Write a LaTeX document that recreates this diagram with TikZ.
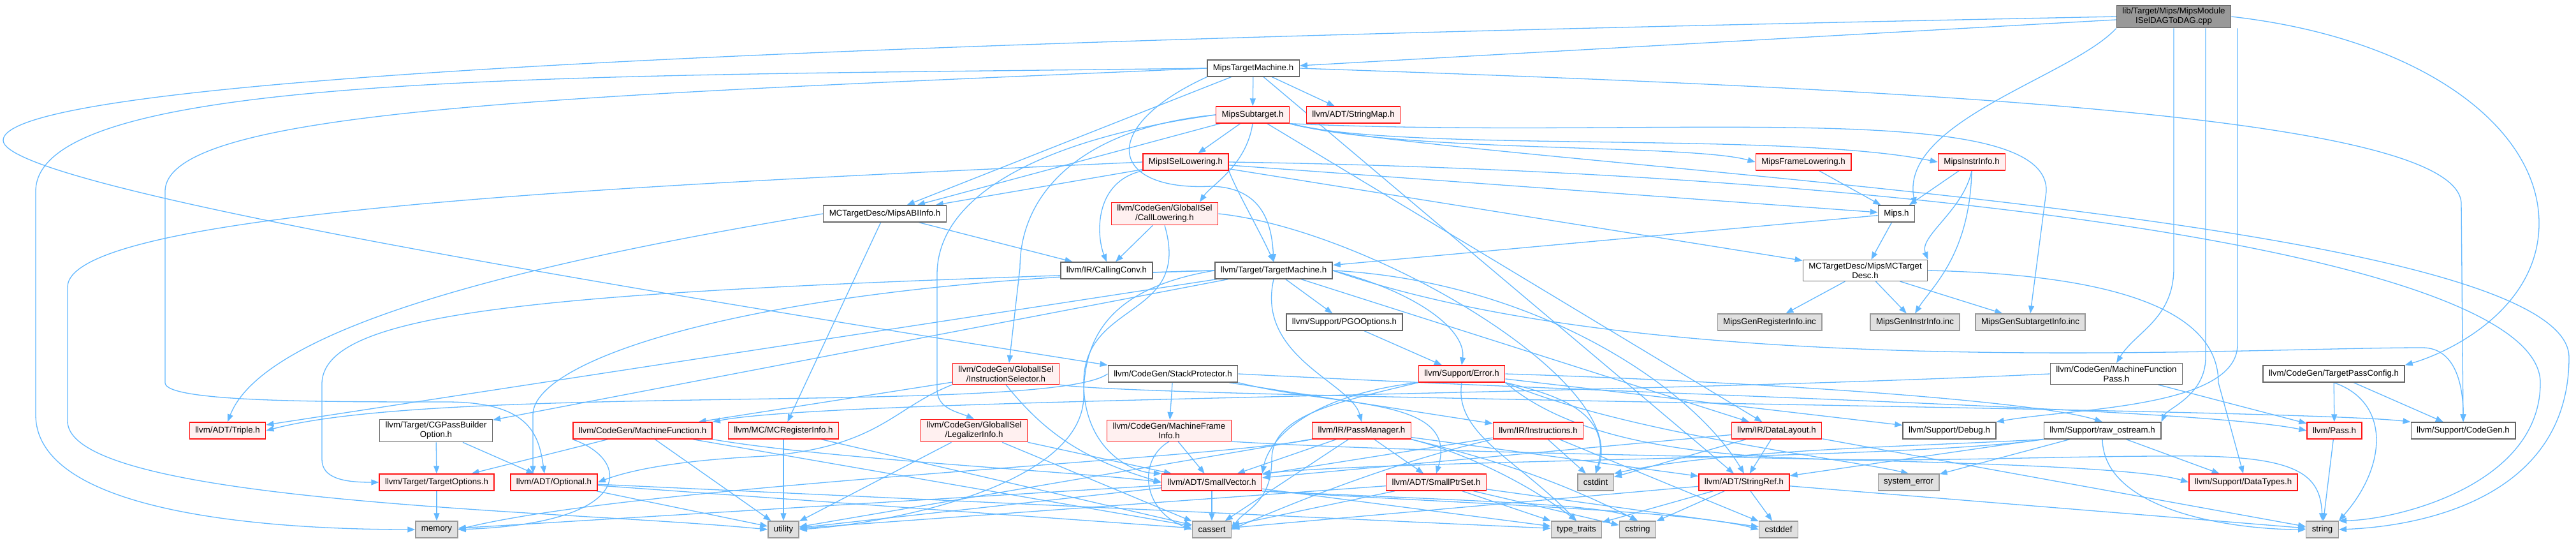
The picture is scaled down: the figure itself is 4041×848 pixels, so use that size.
\documentclass[tikz,border=0pt]{standalone}
\usepackage{fontspec}
\setmainfont{Liberation Sans}
\usepackage{tikz}
\usetikzlibrary{arrows.meta,backgrounds}
\definecolor{edgecol}{RGB}{99,184,255}
\definecolor{boxline}{RGB}{102,102,102}
\definecolor{redline}{RGB}{255,20,20}
\definecolor{redfill}{RGB}{255,240,240}
\definecolor{sysline}{RGB}{153,153,153}
\definecolor{sysfill}{RGB}{224,224,224}
\definecolor{rootfill}{RGB}{153,153,153}

\begin{document}
\begin{tikzpicture}[x=1pt,y=-1pt,
  box/.style={draw=boxline,fill=white,line width=1.4pt,font=\fontsize{13.3}{15}\selectfont,inner xsep=9pt,inner ysep=4pt,minimum height=26pt,align=center},
  redbox/.style={box,draw=redline,fill=redfill},
  sysbox/.style={box,draw=sysline,fill=sysfill},
  rootbox/.style={box,fill=rootfill},
  dep/.style={color=edgecol,line width=1.3pt,-{Triangle[length=12pt,width=9pt]}}]
\useasboundingbox (0,0) rectangle (4041,848);
\node[rootbox] (root) at (3410,26) {lib/Target/Mips/MipsModule\\ISelDAGToDAG.cpp};
\node[box] (tm) at (1966,107) {MipsTargetMachine.h};
\node[redbox] (sub) at (1965,180) {MipsSubtarget.h};
\node[redbox] (smap) at (2123,180) {llvm/ADT/StringMap.h};
\node[redbox] (isel) at (1860,254) {MipsISelLowering.h};
\node[redbox] (frl) at (2829,254) {MipsFrameLowering.h};
\node[redbox] (iinfo) at (3093,254) {MipsInstrInfo.h};
\node[box] (abi) at (1388,335) {MCTargetDesc/MipsABIInfo.h};
\node[redbox] (calllow) at (1827,335) {llvm/CodeGen/GlobalISel\\/CallLowering.h};
\node[box] (mipsh) at (2975,335) {Mips.h};
\node[box] (cconv) at (1736,424) {llvm/IR/CallingConv.h};
\node[box] (ttm) at (1998,424) {llvm/Target/TargetMachine.h};
\node[box] (mcdesc) at (2926,424) {MCTargetDesc/MipsMCTarget\\Desc.h};
\node[box] (pgo) at (2109,505) {llvm/Support/PGOOptions.h};
\node[sysbox] (genreg) at (2776,505) {MipsGenRegisterInfo.inc};
\node[sysbox] (geninstr) at (3004,505) {MipsGenInstrInfo.inc};
\node[sysbox] (gensub) at (3185,505) {MipsGenSubtargetInfo.inc};
\node[redbox] (instsel) at (1578,586) {llvm/CodeGen/GlobalISel\\/InstructionSelector.h};
\node[box] (stackp) at (1840,586) {llvm/CodeGen/StackProtector.h};
\node[redbox] (err) at (2293,586) {llvm/Support/Error.h};
\node[box] (mfpass) at (3320,586) {llvm/CodeGen/MachineFunction\\Pass.h};
\node[box] (tpc) at (3661,586) {llvm/CodeGen/TargetPassConfig.h};
\node[redbox] (triple) at (357,675) {llvm/ADT/Triple.h};
\node[box] (cgpbo) at (684,675) {llvm/Target/CGPassBuilder\\Option.h};
\node[redbox] (mfunc) at (1008,675) {llvm/CodeGen/MachineFunction.h};
\node[redbox] (mcreg) at (1229,675) {llvm/MC/MCRegisterInfo.h};
\node[redbox] (legal) at (1528,675) {llvm/CodeGen/GlobalISel\\/LegalizerInfo.h};
\node[redbox] (mframe) at (1834,675) {llvm/CodeGen/MachineFrame\\Info.h};
\node[redbox] (passmgr) at (2136,675) {llvm/IR/PassManager.h};
\node[redbox] (instrs) at (2413,675) {llvm/IR/Instructions.h};
\node[redbox] (dlayout) at (2787,675) {llvm/IR/DataLayout.h};
\node[box] (debug) at (3058,675) {llvm/Support/Debug.h};
\node[box] (rawos) at (3298,675) {llvm/Support/raw\_ostream.h};
\node[redbox] (pass) at (3662,675) {llvm/Pass.h};
\node[box] (codegen) at (3864,675) {llvm/Support/CodeGen.h};
\node[redbox] (topts) at (685,756) {llvm/Target/TargetOptions.h};
\node[redbox] (optional) at (869,756) {llvm/ADT/Optional.h};
\node[redbox] (svec) at (1901,756) {llvm/ADT/SmallVector.h};
\node[redbox] (sptr) at (2253,756) {llvm/ADT/SmallPtrSet.h};
\node[sysbox] (cstdint) at (2503,756) {cstdint};
\node[redbox] (sref) at (2736,756) {llvm/ADT/StringRef.h};
\node[sysbox] (syserr) at (2994,756) {system\_error};
\node[redbox] (dtypes) at (3519,756) {llvm/Support/DataTypes.h};
\node[sysbox] (memory) at (685,830) {memory};
\node[sysbox] (utility) at (1229,830) {utility};
\node[sysbox] (cassert) at (1901,830) {cassert};
\node[sysbox] (typetraits) at (2473,830) {type\_traits};
\node[sysbox] (cstring) at (2569,830) {cstring};
\node[sysbox] (cstddef) at (2790,830) {cstddef};
\node[sysbox] (string) at (3643,830) {string};
\begin{pgfonlayer}{background}
\draw[dep] (root) -- (tm);
\draw[dep] (root.south west) .. controls (3250,120) and (2980,190) .. (mipsh.north east);
\draw[dep] (root.west) .. controls (1600,60) and (5,110) .. (5,220) .. controls (5,290) and (900,440) .. (stackp.north west);
\draw[dep] (root.east) .. controls (3800,60) and (3983,200) .. (3983,350) .. controls (3983,480) and (3850,550) .. (tpc.north east);
\draw[dep] (root.south) -- (3410,420) .. controls (3410,500) and (3350,520) .. (mfpass.north);
\draw[dep] ([xshift=50pt]root.south) -- (3460,560) .. controls (3460,620) and (3400,640) .. (rawos.north east);
\draw[dep] ([xshift=100pt]root.south) -- (3510,540) .. controls (3510,640) and (3250,640) .. (debug.north east);
\draw[dep] (tm) -- (sub); \draw[dep] (tm) -- (smap); \draw[dep] (tm) -- (abi); \draw[dep] (tm) -- (sref);
\draw[dep] (tm.south west) .. controls (1720,200) and (1740,300) .. (1900,292) .. controls (1980,294) and (1995,350) .. (ttm.north);
\draw[dep] (tm.west) .. controls (900,120) and (56,110) .. (56,300) -- (56,650) .. controls (56,800) and (400,830) .. (memory.west);
\draw[dep] (tm.west) .. controls (900,150) and (259,170) .. (259,300) -- (259,600) .. controls (259,630) and (500,630) .. (700,630) .. controls (830,630) and (845,680) .. ([xshift=-15pt]optional.north);
\draw[dep] (tm.east) .. controls (3000,140) and (3861,180) .. (3861,320) -- (codegen.north);
\draw[dep] (sub) -- (abi); \draw[dep] (sub) -- (isel); \draw[dep] (sub) -- (dlayout);
\draw[dep] (sub.south east) .. controls (2200,240) and (2650,225) .. (frl.west);
\draw[dep] (sub.south east) .. controls (2200,240) and (2800,205) .. (iinfo.west);
\draw[dep] (sub.south east) .. controls (2600,220) and (3215,150) .. (3210,300) -- (gensub.north);
\draw[dep] (sub.south) .. controls (1955,260) and (1900,290) .. ([xshift=55pt]calllow.north);
\draw[dep] (sub.west) .. controls (1700,200) and (1600,300) .. (1600,420) -- ([xshift=5pt]instsel.north);
\draw[dep] (sub.west) .. controls (1650,215) and (1470,300) .. (1470,430) -- (1470,610) .. controls (1470,640) and (1500,645) .. (legal.north);
\draw[dep] (sub.south east) .. controls (2300,260) and (4030,330) .. (4030,560) .. controls (4030,780) and (3800,825) .. (string.east);
\draw[dep] (isel) -- (abi); \draw[dep] (isel) -- (mcdesc); \draw[dep] (isel) -- (mipsh);
\draw[dep] (isel.south west) .. controls (1715,285) and (1720,370) .. (cconv.north);
\draw[dep] (isel.south east) .. controls (1940,300) and (1975,360) .. (ttm.north);
\draw[dep] (isel.west) .. controls (1000,290) and (106,330) .. (106,450) -- (106,660) .. controls (106,790) and (900,800) .. (utility.west);
\draw[dep] (isel.east) .. controls (3000,270) and (3985,400) .. (3985,600) .. controls (3985,760) and (3760,815) .. (string.north east);
\draw[dep] (frl) -- (mipsh);
\draw[dep] (iinfo) -- (mipsh);
\draw[dep] (iinfo.south) .. controls (3080,330) and (3010,370) .. (mcdesc.north east);
\draw[dep] (iinfo.south) .. controls (3090,400) and (3030,450) .. (geninstr.north);
\draw[dep] (abi) -- (cconv); \draw[dep] (abi) -- (mcreg);
\draw[dep] (abi.west) .. controls (900,400) and (420,500) .. (triple.north);
\draw[dep] (calllow) -- (cconv);
\draw[dep] (calllow.south) .. controls (1870,500) and (1700,470) .. (1700,600) .. controls (1700,700) and (1770,740) .. (svec.north west);
\draw[dep] (calllow.east) .. controls (2150,360) and (2560,600) .. (cstdint.north);
\draw[dep] (mipsh) -- (mcdesc); \draw[dep] (mipsh) -- (ttm);
\draw[dep] (ttm) -- (pgo); \draw[dep] (ttm) -- (triple); \draw[dep] (ttm) -- (cgpbo); \draw[dep] (ttm) -- (dlayout);
\draw[dep] (ttm.west) .. controls (1200,440) and (836,560) .. (836,650) -- ([xshift=-33pt]optional.north);
\draw[dep] (ttm.east) .. controls (2400,440) and (2650,600) .. (sref.north);
\draw[dep] (ttm.south) .. controls (1970,560) and (2120,600) .. (passmgr.north);
\draw[dep] (ttm.east) .. controls (2230,460) and (2300,520) .. (err.north);
\draw[dep] (ttm.west) .. controls (1750,450) and (1700,520) .. (1700,620) .. controls (1700,760) and (1400,820) .. (utility.east);
\draw[dep] (ttm.east) .. controls (2600,600) and (3500,545) .. (3800,545) .. controls (3850,545) and (3864,600) .. (codegen.north);
\draw[dep] (ttm.west) .. controls (900,455) and (510,480) .. (505,600) -- (505,720) .. controls (505,750) and (540,756) .. (topts.west);
\draw[dep] (mcdesc) -- (genreg); \draw[dep] (mcdesc) -- (geninstr); \draw[dep] (mcdesc) -- (gensub);
\draw[dep] (mcdesc.east) .. controls (3300,430) and (3480,480) .. (3480,600) -- (dtypes.north);
\draw[dep] (pgo) -- (err);
\draw[dep] (instsel) -- (mfunc);
\draw[dep] (instsel.south) .. controls (1640,680) and (1700,720) .. (svec.west);
\draw[dep] (instsel.south west) .. controls (1400,640) and (1380,700) .. (1200,715) .. controls (1050,722) and (980,740) .. (optional.east);
\draw[dep] (instsel.south east) .. controls (1800,625) and (3600,640) .. (codegen.north west);
\draw[dep] (stackp) -- (mframe); \draw[dep] (stackp) -- (instrs);
\draw[dep] (stackp.south east) .. controls (2100,640) and (2290,620) .. (sptr.north);
\draw[dep] (stackp.west) .. controls (1650,650) and (700,600) .. (triple.east);
\draw[dep] (stackp.east) .. controls (2600,620) and (3450,640) .. (pass.west);
\draw[dep] (err) -- (debug);
\draw[dep] (err.south west) .. controls (2050,620) and (1990,690) .. (svec.north east);
\draw[dep] (err.east) .. controls (2800,600) and (3200,630) .. (rawos.north);
\draw[dep] (err.south west) .. controls (2100,630) and (1995,650) .. (1995,720) .. controls (1995,790) and (1950,800) .. (cassert.east);
\draw[dep] (err.south east) .. controls (2450,620) and (2530,650) .. (cstdint.north);
\draw[dep] (err.south east) .. controls (2550,760) and (3000,715) .. (3400,715) .. controls (3600,712) and (3640,740) .. (string.north);
\draw[dep] (err.south east) .. controls (2550,680) and (2900,720) .. (syserr.north);
\draw[dep] (err.south) .. controls (2280,680) and (2380,720) .. (typetraits.north);
\draw[dep] (mfpass) -- (pass);
\draw[dep] (mfpass.west) .. controls (2500,620) and (1300,625) .. (mfunc.north east);
\draw[dep] (tpc) -- (pass); \draw[dep] (tpc) -- (codegen);
\draw[dep] (tpc.south) .. controls (3750,630) and (3745,730) .. (string.north east);
\draw[dep] (cgpbo) -- (optional); \draw[dep] (cgpbo) -- (topts);
\draw[dep] (mfunc) -- (topts); \draw[dep] (mfunc) -- (cassert); \draw[dep] (mfunc) -- (utility);
\draw[dep] (mfunc.south east) .. controls (1300,720) and (1700,740) .. (svec.west);
\draw[dep] (mfunc.south west) .. controls (990,720) and (1000,820) .. (memory.east);
\draw[dep] (mcreg) -- (cassert); \draw[dep] (mcreg) -- (utility);
\draw[dep] (legal) -- (svec); \draw[dep] (legal) -- (cassert); \draw[dep] (legal) -- (utility);
\draw[dep] (mframe) -- (svec);
\draw[dep] (mframe.south east) .. controls (2400,720) and (3300,715) .. (dtypes.west);
\draw[dep] (mframe.south) .. controls (1785,720) and (1790,800) .. (cassert.west);
\draw[dep] (passmgr) -- (sptr); \draw[dep] (passmgr) -- (sref); \draw[dep] (passmgr) -- (svec);
\draw[dep] (passmgr) -- (cassert); \draw[dep] (passmgr) -- (utility);
\draw[dep] (passmgr.south east) .. controls (2300,710) and (2420,740) .. (cstring.north);
\draw[dep] (passmgr.south west) .. controls (1900,720) and (1000,760) .. (memory.east);
\draw[dep] (passmgr.south east) .. controls (2300,710) and (2400,760) .. (typetraits.north);
\draw[dep] (instrs) -- (svec); \draw[dep] (instrs) -- (cstddef); \draw[dep] (instrs) -- (cstdint);
\draw[dep] (instrs.south west) .. controls (2180,725) and (2000,800) .. (cassert.east);
\draw[dep] (dlayout) -- (sref); \draw[dep] (dlayout) -- (svec); \draw[dep] (dlayout) -- (cstdint); \draw[dep] (dlayout) -- (string);
\draw[dep] (rawos) -- (sref); \draw[dep] (rawos) -- (dtypes); \draw[dep] (rawos) -- (syserr);
\draw[dep] (rawos.south west) .. controls (3000,720) and (2200,720) .. (svec.north east);
\draw[dep] (rawos.south west) .. controls (3000,700) and (2700,705) .. (cstdint.north east);
\draw[dep] (rawos.south) .. controls (3300,800) and (3500,830) .. (string.west);
\draw[dep] (pass) -- (string); \draw[dep] (topts) -- (memory);
\draw[dep] (optional) -- (cassert); \draw[dep] (optional) -- (utility); \draw[dep] (optional) -- (typetraits);
\draw[dep] (svec) -- (cassert); \draw[dep] (svec) -- (memory); \draw[dep] (svec) -- (typetraits); \draw[dep] (svec) -- (utility);
\draw[dep] (svec.south east) .. controls (2300,790) and (2650,800) .. (cstddef.west);
\draw[dep] (svec.south east) .. controls (2300,785) and (2520,790) .. (cstring.north);
\draw[dep] (sptr) -- (cassert); \draw[dep] (sptr) -- (cstddef); \draw[dep] (sptr) -- (cstring);
\draw[dep] (sptr) -- (typetraits); \draw[dep] (sptr) -- (utility);
\draw[dep] (sref) -- (cassert); \draw[dep] (sref) -- (cstddef); \draw[dep] (sref) -- (cstring);
\draw[dep] (sref) -- (string); \draw[dep] (sref) -- (typetraits);
\end{pgfonlayer}
\end{tikzpicture}
\end{document}
